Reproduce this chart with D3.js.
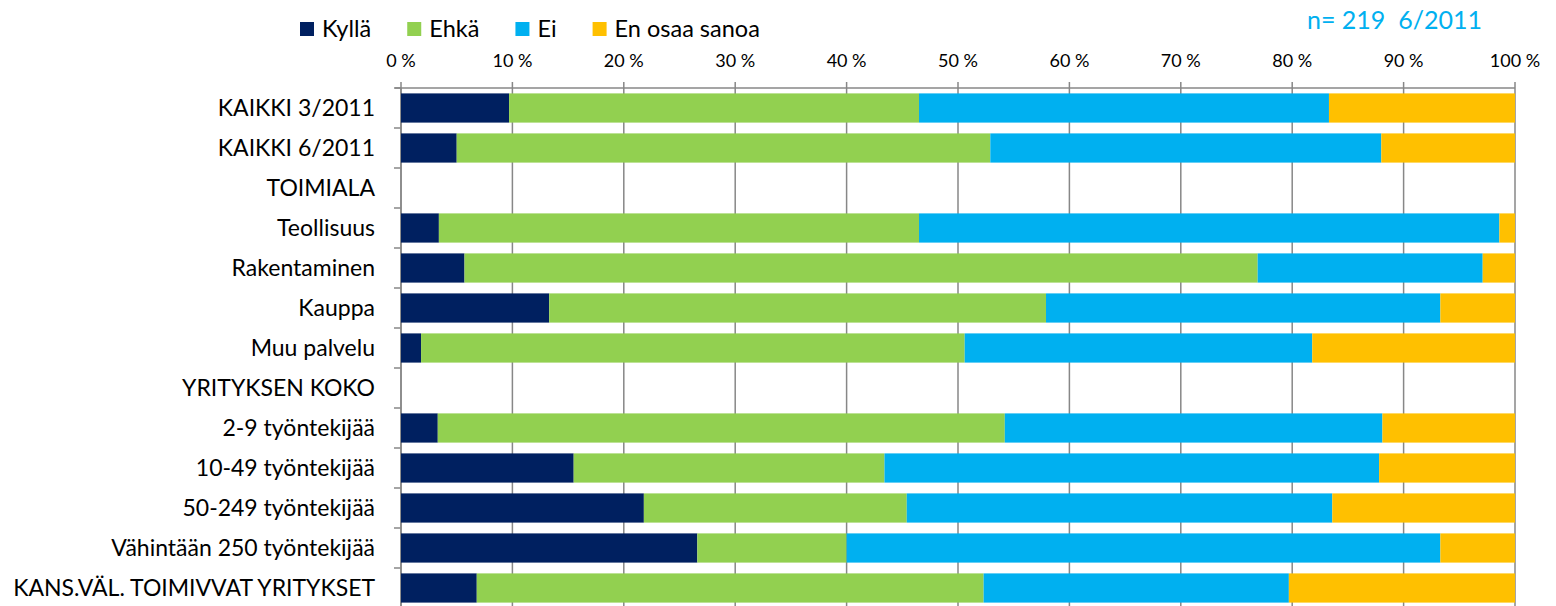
<!DOCTYPE html>
<html>
<head>
<meta charset="utf-8">
<script src="https://cdn.jsdelivr.net/npm/d3@7"></script>
<style>
  html, body { margin: 0; padding: 0; background: #fff; }
  svg { display: block; font-family: Lato, "Open Sans", sans-serif; }
</style>
</head>
<body>
<svg id="chart" width="1556" height="606"></svg>
<script>
const categories = [
  "KAIKKI 3/2011", "KAIKKI 6/2011", "TOIMIALA", "Teollisuus", "Rakentaminen",
  "Kauppa", "Muu palvelu", "YRITYKSEN KOKO", "2-9 työntekijää", "10-49 työntekijää",
  "50-249 työntekijää", "Vähintään 250 työntekijää", "KANS.VÄL. TOIMIVVAT YRITYKSET"
];
const seriesNames = ["Kyllä", "Ehkä", "Ei", "En osaa sanoa"];
const kylla = [9.7, 5.0, 0, 3.4, 5.7, 13.3, 1.8, 0, 3.3, 15.5, 21.8, 26.6, 6.8];
const ehka  = [36.8, 47.9, 0, 43.1, 71.2, 44.6, 48.8, 0, 50.9, 27.9, 23.6, 13.4, 45.5];
const ei    = [36.8, 35.1, 0, 52.1, 20.2, 35.4, 31.2, 0, 33.9, 44.4, 38.2, 53.3, 27.4];
const eos   = [16.7, 12.0, 0, 1.4, 2.9, 6.7, 18.2, 0, 11.9, 12.2, 16.4, 6.7, 20.3];
const tickValues = [0, 10, 20, 30, 40, 50, 60, 70, 80, 90, 100];
const noteText = "n= 219  6/2011";

const colors = ["#002060", "#92D050", "#00B0F0", "#FFC000"];
const seriesValues = [kylla, ehka, ei, eos];

const svg = d3.select("#chart");
const margin = { left: 401, right: 41, top: 88 };
const plotW = 1556 - margin.left - margin.right;
const plotH = 520;

const x = d3.scaleLinear().domain([0, 100]).range([margin.left, margin.left + plotW]);
const y = d3.scaleBand().domain(categories)
  .range([margin.top, margin.top + plotH])
  .paddingInner(0.27).paddingOuter(0.135);

// gridlines
svg.append("g").selectAll("line").data(tickValues).join("line")
  .attr("x1", d => x(d)).attr("x2", d => x(d))
  .attr("y1", margin.top - 6).attr("y2", margin.top + plotH)
  .attr("stroke", "#878787").attr("stroke-width", 1.5);

// top axis line
svg.append("line")
  .attr("x1", x(0) - 6).attr("x2", x(100))
  .attr("y1", margin.top).attr("y2", margin.top)
  .attr("stroke", "#878787").attr("stroke-width", 1.5);

// top tick labels
svg.append("g").selectAll("text").data(tickValues).join("text")
  .attr("x", d => x(d)).attr("y", 67)
  .attr("text-anchor", "middle")
  .attr("font-size", 18)
  .attr("fill", "#000")
  .text(d => d + " %");

// left axis line & ticks at band boundaries
svg.append("line")
  .attr("x1", x(0)).attr("x2", x(0))
  .attr("y1", margin.top).attr("y2", margin.top + plotH)
  .attr("stroke", "#878787").attr("stroke-width", 1.5);
const boundaries = d3.range(categories.length + 1).map(i => margin.top + i * y.step());
svg.append("g").selectAll("line").data(boundaries).join("line")
  .attr("x1", x(0) - 7).attr("x2", x(0))
  .attr("y1", d => d).attr("y2", d => d)
  .attr("stroke", "#878787").attr("stroke-width", 1.5);

// stacked data
const rows = categories.map((c, i) => {
  const o = { cat: c };
  seriesNames.forEach((s, j) => o[s] = seriesValues[j][i]);
  return o;
});
const stacked = d3.stack().keys(seriesNames)(rows);

svg.append("g").selectAll("g").data(stacked).join("g")
  .attr("fill", (d, i) => colors[i])
  .selectAll("rect").data(d => d.filter(p => p[1] - p[0] > 0)).join("rect")
  .attr("x", d => x(d[0]))
  .attr("width", d => x(d[1]) - x(d[0]))
  .attr("y", d => y(d.data.cat))
  .attr("height", y.bandwidth());

// category labels
svg.append("g").selectAll("text").data(categories).join("text")
  .attr("x", 375)
  .attr("y", d => y(d) + y.bandwidth() / 2)
  .attr("dy", "0.36em")
  .attr("text-anchor", "end")
  .attr("font-size", 23)
  .attr("fill", "#000")
  .text(d => d);

// legend
const legend = svg.append("g");
let lx = 300;
seriesNames.forEach((s, i) => {
  legend.append("rect").attr("x", lx).attr("y", 22).attr("width", 14).attr("height", 14).attr("fill", colors[i]);
  const t = legend.append("text").attr("x", lx + 22).attr("y", 29).attr("dy", "0.36em")
    .attr("font-size", 23.5).attr("fill", "#000").text(s);
  lx += 22 + t.node().getComputedTextLength() + 36;
});

// note
svg.append("text")
  .attr("x", 1307).attr("y", 20).attr("dy", "0.36em")
  .attr("font-size", 25).attr("fill", "#00B0F0")
  .style("white-space", "pre")
  .text(noteText);
</script>
</body>
</html>
